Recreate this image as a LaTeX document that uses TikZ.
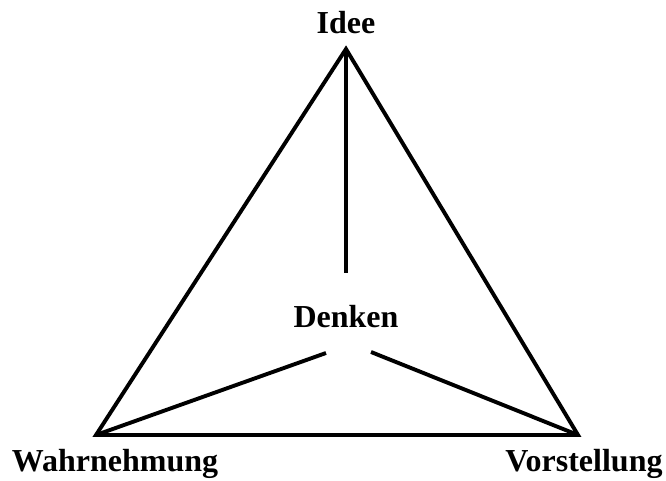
\documentclass[tikz,border=0pt]{standalone}
\usepackage{fontspec}
\setmainfont{Liberation Serif}
\begin{document}
\begin{tikzpicture}[x=1pt,y=1pt,
  edge/.style={line width=3.9pt,line join=miter},
  lbl/.style={font=\fontsize{32}{36}\selectfont\bfseries,anchor=base,inner sep=0pt}]
\useasboundingbox (0,0) rectangle (666,481);
\coordinate (T) at (346,432);
\coordinate (L) at (96,46);
\coordinate (R) at (578,46);
\coordinate (Dt) at (346,208);
\coordinate (Dl) at (326,128);
\coordinate (Dr) at (371,129);
\node[lbl] (idee) at (346,447) {Idee};
\node[lbl] (denken) at (346,153) {Denken};
\node[lbl] (wahr) at (115,9) {Wahrnehmung};
\node[lbl] (vor) at (584,9) {Vorstellung};
\draw[edge] (T) -- (L) -- (R) -- cycle;
\draw[edge] (T) -- (Dt);
\draw[edge] (L) -- (Dl);
\draw[edge] (R) -- (Dr);
\end{tikzpicture}
\end{document}
